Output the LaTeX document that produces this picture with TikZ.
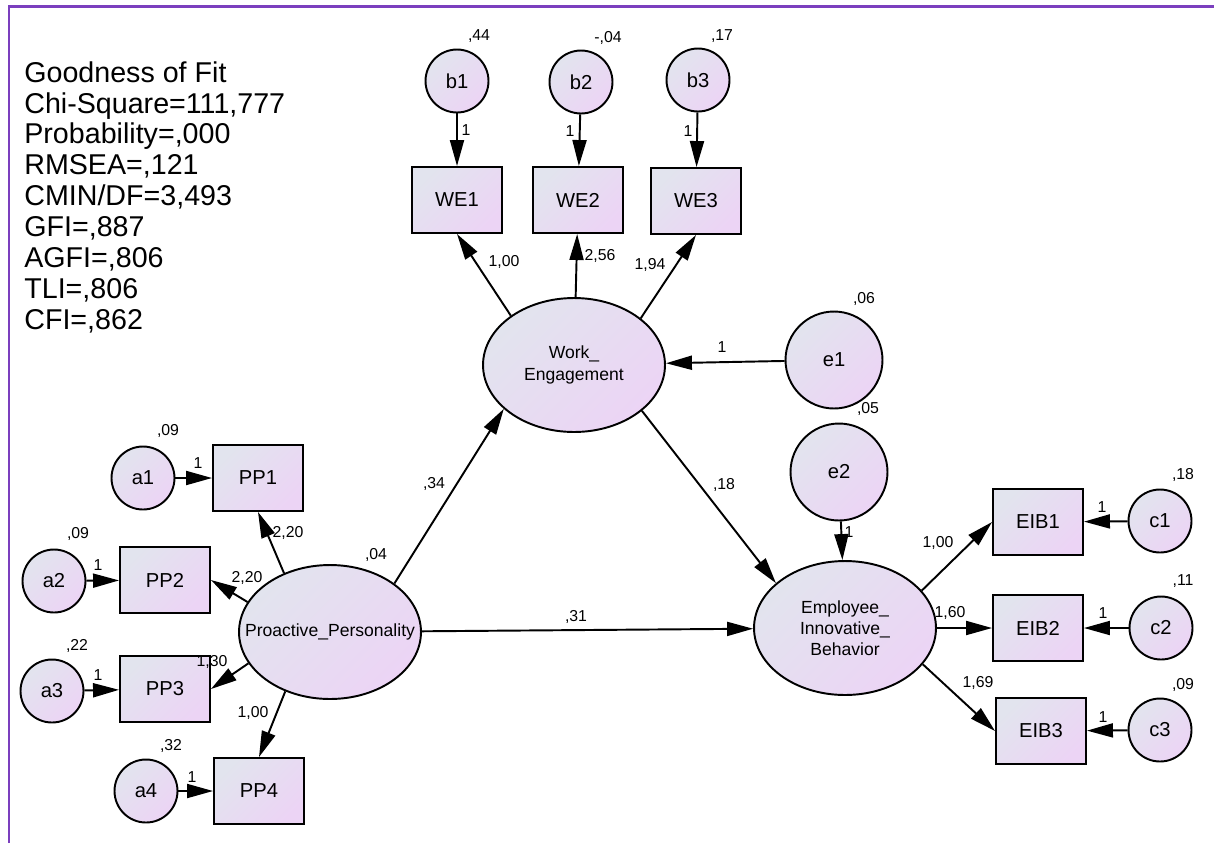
\documentclass[tikz,border=0pt]{standalone}
\usepackage{fontspec}
\setmainfont{Liberation Sans}
\usetikzlibrary{arrows.meta,shapes.geometric}
\definecolor{amosgrey}{RGB}{226,228,238}
\definecolor{amospink}{RGB}{236,212,245}
\definecolor{framepurple}{RGB}{123,63,190}
\begin{document}
\begin{tikzpicture}[>={Triangle[length=5.2mm,width=2.8mm]},x=0.02cm,y=-0.02cm,
    shd/.style={draw,line width=1.1pt,left color=amosgrey,right color=amospink,shading angle=45},
    obs/.style={shd,rectangle,minimum width=1.8cm,minimum height=1.32cm,inner sep=0pt,font=\fontsize{11.5}{13}\selectfont},
    err/.style={shd,circle,minimum size=1.26cm,inner sep=0pt,font=\fontsize{11.5}{13}\selectfont},
    bigerr/.style={err,minimum size=1.94cm},
    lat/.style={shd,ellipse,minimum width=3.64cm,minimum height=2.68cm,inner sep=0pt,align=center,font=\fontsize{10}{12.5}\selectfont},
    lbl/.style={inner sep=0pt,font=\fontsize{9}{10}\selectfont},
    arr/.style={->,line width=1.1pt}]
	  \useasboundingbox (0,0) rectangle (1214,843);
	  \draw[framepurple,line width=1.7pt] (9,843) -- (9,6) -- (1214,6);
	  % fit indices
	  \node[anchor=north west,inner sep=0pt,align=left,font=\fontsize{16.3}{17.6}\selectfont] (fit) at (24,61)
	    {Goodness of Fit\\Chi-Square=111,777\\Probability=,000\\RMSEA=,121\\CMIN/DF=3,493\\GFI=,887\\AGFI=,806\\TLI=,806\\CFI=,862};
	  % latent variables
	  \node[lat] (we) at (574,365) {Work\_\\Engagement};
	  \node[lat] (pp) at (330,632) {\makebox[0pt]{Proactive\_Personality}};
	  \node[lat,font=\fontsize{10}{12}\selectfont] (eib) at (845,628) {Employee\_\\Innovative\_\\Behavior};
	  % indicators
	  \node[obs] (we1) at (457,200) {WE1};
	  \node[obs] (we2) at (578,200) {WE2};
	  \node[obs] (we3) at (696,201) {WE3};
	  \node[obs] (pp1) at (258,478) {PP1};
	  \node[obs] (pp2) at (165,580) {PP2};
	  \node[obs] (pp3) at (165,689) {PP3};
	  \node[obs] (pp4) at (259,791) {PP4};
	  \node[obs] (eib1) at (1038,522) {EIB1};
	  \node[obs] (eib2) at (1038,628) {EIB2};
	  \node[obs] (eib3) at (1041,731) {EIB3};
	  % errors
	  \node[err] (b1) at (457,81) {b1};
	  \node[err] (b2) at (581,82) {b2};
	  \node[err] (b3) at (698,80) {b3};
	  \node[err] (a1) at (143,478) {a1};
	  \node[err] (a2) at (54,581) {a2};
	  \node[err] (a3) at (52,691) {a3};
	  \node[err] (a4) at (146,791) {a4};
	  \node[err] (c1) at (1160,521) {c1};
	  \node[err] (c2) at (1161,628) {c2};
	  \node[err] (c3) at (1160,730) {c3};
	  \node[bigerr] (e1) at (834,360) {e1};
	  \node[bigerr] (e2) at (839,472) {e2};
	  % variances
	  \node[lbl] (vb1) at (479,36) {,44};
	  \node[lbl] (vb2) at (608,38) {-,04};
	  \node[lbl] (vb3) at (722,36) {,17};
	  \node[lbl] (va1) at (168,431) {,09};
	  \node[lbl] (va2) at (78,534) {,09};
	  \node[lbl] (va3) at (77,646) {,22};
	  \node[lbl] (va4) at (171,746) {,32};
	  \node[lbl] (vc1) at (1183,475) {,18};
	  \node[lbl] (vc2) at (1183,581) {,11};
	  \node[lbl] (vc3) at (1183,685) {,09};
	  \node[lbl] (ve1) at (864,299) {,06};
	  \node[lbl] (ve2) at (868,409) {,05};
	  \node[lbl] (vpp) at (376,555) {,04};
	  % paths
	  \draw[arr] (b1) -- (we1);
	  \draw[arr] (b2) -- (we2);
	  \draw[arr] (b3) -- (we3);
	  \draw[arr] (a1) -- (pp1);
	  \draw[arr] (a2) -- (pp2);
	  \draw[arr] (a3) -- (pp3);
	  \draw[arr] (a4) -- (pp4);
	  \draw[arr] (c1) -- (eib1);
	  \draw[arr] (c2) -- (eib2);
	  \draw[arr] (c3) -- (eib3);
	  \draw[arr] (e1) -- (we);
	  \draw[arr] (e2) -- (eib);
	  \draw[arr] (we.142) -- (we1.south);
	  \draw[arr] (we) -- (we2);
	  \draw[arr] (we.35) -- (we3.south);
	  \draw[arr] (pp.128) -- (pp1.south);
	  \draw[arr] (pp.160) -- (pp2.east);
	  \draw[arr] (pp.201) -- (pp3.east);
	  \draw[arr] (pp.233) -- (pp4.north);
	  \draw[arr] (eib.26) -- (eib1.west);
	  \draw[arr] (eib) -- (eib2);
	  \draw[arr] (eib.335) -- (eib3.west);
	  \draw[arr] (pp.37) -- (we.212);
	  \draw[arr] (pp) -- (eib);
	  \draw[arr] (we.326) -- (eib.147);
	  % path labels
	  \node[lbl] (lb1) at (466,130) {1};
	  \node[lbl] (lb2) at (570,131) {1};
	  \node[lbl] (lb3) at (688,131) {1};
	  \node[lbl] (la1) at (198,463) {1};
	  \node[lbl] (la2) at (98,565) {1};
	  \node[lbl] (la3) at (98,675) {1};
	  \node[lbl] (la4) at (192,777) {1};
	  \node[lbl] (lc1) at (1102,507) {1};
	  \node[lbl] (lc2) at (1103,613) {1};
	  \node[lbl] (lc3) at (1103,717) {1};
	  \node[lbl] (le1) at (722,347) {1};
	  \node[lbl] (le2) at (849,532) {1};
	  \node[lbl] (lwe1) at (504,262) {1,00};
	  \node[lbl] (lwe2) at (600,256) {2,56};
	  \node[lbl] (lwe3) at (650,265) {1,94};
	  \node[lbl] (lpp1) at (288,533) {2,20};
	  \node[lbl] (lpp2) at (247,578) {2,20};
	  \node[lbl] (lpp3) at (212,662) {1,30};
	  \node[lbl] (lpp4) at (253,713) {1,00};
	  \node[lbl] (leib1) at (938,543) {1,00};
	  \node[lbl] (leib2) at (950,613) {1,60};
	  \node[lbl] (leib3) at (978,683) {1,69};
	  \node[lbl] (lppwe) at (434,484) {,34};
	  \node[lbl] (lweeib) at (724,485) {,18};
	  \node[lbl] (lppeib) at (576,617) {,31};
\end{tikzpicture}
\end{document}
